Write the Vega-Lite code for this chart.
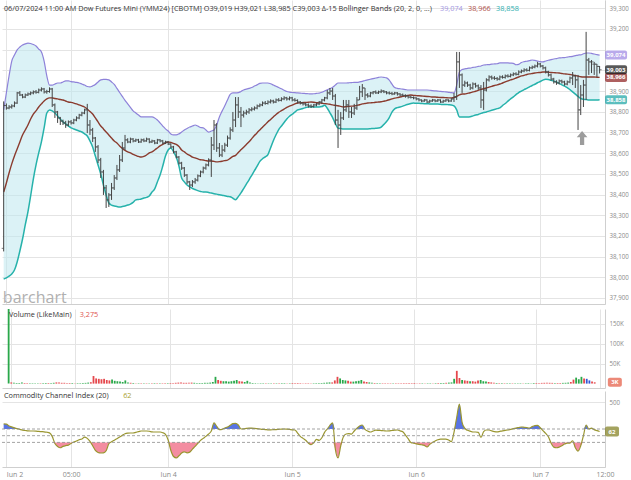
{
"$schema":"https://vega.github.io/schema/vega-lite/v6.json",
"padding":0,
"background":"#ffffff",
"spacing":3,
"config":{"font":"Open Sans","view":{"stroke":null},"axis":{"labelColor":"#8a8a8a","labelFontSize":6.2,"gridColor":"#e4e4e4","gridWidth":1,"domainColor":"#cfcfcf","ticks":false,"labelPadding":4,"labelOverlap":false,"tickCount":30}},
"datasets":{"bars":[
{"i":-1,"o":38140,"h":38850,"l":38125,"c":38830,"u":38809,"m":38412,"d":37992,"v":200000,"k":175},
{"i":0,"o":38830,"h":38840,"l":38810,"c":38818,"u":38891,"m":38456,"d":37997,"v":3000,"k":174},
{"i":1,"o":38818,"h":38832,"l":38812,"c":38823,"u":38973,"m":38504,"d":38006,"v":2000,"k":144},
{"i":2,"o":38823,"h":38836,"l":38815,"c":38828,"u":39045,"m":38548,"d":38016,"v":1500,"k":131},
{"i":3,"o":38828,"h":38850,"l":38822,"c":38842,"u":39074,"m":38586,"d":38035,"v":1500,"k":117},
{"i":4,"o":38842,"h":38896,"l":38838,"c":38891,"u":39099,"m":38620,"d":38074,"v":2500,"k":106},
{"i":5,"o":38891,"h":38900,"l":38876,"c":38881,"u":39113,"m":38654,"d":38127,"v":1500,"k":94},
{"i":6,"o":38881,"h":38886,"l":38865,"c":38871,"u":39123,"m":38688,"d":38185,"v":1200,"k":83},
{"i":7,"o":38871,"h":38888,"l":38866,"c":38881,"u":39128,"m":38712,"d":38253,"v":1000,"k":78},
{"i":8,"o":38881,"h":38893,"l":38876,"c":38886,"u":39132,"m":38736,"d":38316,"v":1000,"k":72},
{"i":9,"o":38886,"h":38898,"l":38880,"c":38891,"u":39130,"m":38765,"d":38393,"v":900,"k":70},
{"i":10,"o":38891,"h":38903,"l":38884,"c":38896,"u":39125,"m":38789,"d":38475,"v":900,"k":70},
{"i":11,"o":38896,"h":38905,"l":38887,"c":38894,"u":39118,"m":38804,"d":38543,"v":1000,"k":68},
{"i":12,"o":38894,"h":38912,"l":38889,"c":38905,"u":39103,"m":38823,"d":38601,"v":1200,"k":64},
{"i":13,"o":38905,"h":38918,"l":38898,"c":38910,"u":39089,"m":38838,"d":38654,"v":1500,"k":61},
{"i":14,"o":38910,"h":38915,"l":38888,"c":38896,"u":39045,"m":38852,"d":38722,"v":1500,"k":58},
{"i":15,"o":38896,"h":38906,"l":38887,"c":38898,"u":38973,"m":38862,"d":38794,"v":1800,"k":51},
{"i":16,"o":38898,"h":38918,"l":38892,"c":38910,"u":38929,"m":38867,"d":38809,"v":2000,"k":43},
{"i":17,"o":38910,"h":38915,"l":38823,"c":38833,"u":38929,"m":38867,"d":38804,"v":3000,"k":-10},
{"i":18,"o":38833,"h":38840,"l":38770,"c":38799,"u":38934,"m":38864,"d":38794,"v":2500,"k":-115},
{"i":19,"o":38799,"h":38804,"l":38746,"c":38770,"u":38939,"m":38862,"d":38780,"v":2000,"k":-160},
{"i":20,"o":38770,"h":38775,"l":38736,"c":38755,"u":38939,"m":38859,"d":38765,"v":2000,"k":-180},
{"i":21,"o":38755,"h":38762,"l":38736,"c":38746,"u":38944,"m":38857,"d":38751,"v":1800,"k":-160},
{"i":22,"o":38746,"h":38756,"l":38722,"c":38736,"u":38949,"m":38852,"d":38741,"v":1500,"k":-148},
{"i":23,"o":38736,"h":38758,"l":38730,"c":38751,"u":38949,"m":38847,"d":38731,"v":1500,"k":-140},
{"i":24,"o":38751,"h":38760,"l":38738,"c":38746,"u":38946,"m":38845,"d":38722,"v":1200,"k":-115},
{"i":25,"o":38746,"h":38766,"l":38740,"c":38760,"u":38944,"m":38842,"d":38717,"v":1200,"k":-95},
{"i":26,"o":38760,"h":38778,"l":38754,"c":38770,"u":38942,"m":38838,"d":38712,"v":1200,"k":-80},
{"i":27,"o":38770,"h":38790,"l":38764,"c":38784,"u":38939,"m":38833,"d":38707,"v":1500,"k":-60},
{"i":28,"o":38784,"h":38800,"l":38778,"c":38794,"u":38934,"m":38828,"d":38702,"v":1800,"k":-50},
{"i":29,"o":38794,"h":38815,"l":38788,"c":38809,"u":38929,"m":38823,"d":38693,"v":2500,"k":-20},
{"i":30,"o":38809,"h":38838,"l":38697,"c":38736,"u":38922,"m":38813,"d":38683,"v":3500,"k":-40},
{"i":31,"o":38736,"h":38760,"l":38688,"c":38712,"u":38920,"m":38801,"d":38659,"v":19000,"k":-85},
{"i":32,"o":38712,"h":38722,"l":38654,"c":38673,"u":38925,"m":38789,"d":38630,"v":13000,"k":-150},
{"i":33,"o":38673,"h":38678,"l":38606,"c":38630,"u":38932,"m":38770,"d":38586,"v":12000,"k":-220},
{"i":34,"o":38630,"h":38639,"l":38552,"c":38567,"u":38944,"m":38751,"d":38543,"v":11000,"k":-250},
{"i":35,"o":38567,"h":38577,"l":38480,"c":38509,"u":38954,"m":38731,"d":38499,"v":12000,"k":-258},
{"i":36,"o":38509,"h":38519,"l":38398,"c":38432,"u":38956,"m":38717,"d":38446,"v":9000,"k":-256},
{"i":37,"o":38432,"h":38446,"l":38335,"c":38374,"u":38956,"m":38702,"d":38398,"v":8000,"k":-225},
{"i":38,"o":38374,"h":38407,"l":38340,"c":38398,"u":38954,"m":38688,"d":38359,"v":10000,"k":-120},
{"i":39,"o":38398,"h":38456,"l":38374,"c":38432,"u":38944,"m":38673,"d":38349,"v":7000,"k":-92},
{"i":40,"o":38432,"h":38494,"l":38422,"c":38480,"u":38932,"m":38659,"d":38345,"v":6000,"k":-68},
{"i":41,"o":38480,"h":38543,"l":38470,"c":38519,"u":38913,"m":38649,"d":38342,"v":5000,"k":-45},
{"i":42,"o":38519,"h":38591,"l":38509,"c":38567,"u":38893,"m":38635,"d":38340,"v":4000,"k":-20},
{"i":43,"o":38567,"h":38654,"l":38557,"c":38625,"u":38874,"m":38623,"d":38342,"v":8000,"k":5},
{"i":44,"o":38625,"h":38688,"l":38615,"c":38664,"u":38855,"m":38613,"d":38345,"v":3000,"k":30},
{"i":45,"o":38664,"h":38672,"l":38648,"c":38654,"u":38838,"m":38606,"d":38349,"v":2000,"k":38},
{"i":46,"o":38654,"h":38675,"l":38648,"c":38668,"u":38821,"m":38601,"d":38354,"v":1500,"k":40},
{"i":47,"o":38668,"h":38673,"l":38652,"c":38659,"u":38804,"m":38594,"d":38362,"v":1200,"k":40},
{"i":48,"o":38659,"h":38670,"l":38654,"c":38664,"u":38794,"m":38589,"d":38374,"v":1000,"k":50},
{"i":49,"o":38664,"h":38669,"l":38649,"c":38654,"u":38784,"m":38584,"d":38376,"v":1000,"k":60},
{"i":50,"o":38654,"h":38670,"l":38650,"c":38664,"u":38775,"m":38581,"d":38378,"v":900,"k":70},
{"i":51,"o":38664,"h":38671,"l":38653,"c":38659,"u":38775,"m":38584,"d":38383,"v":900,"k":70},
{"i":52,"o":38659,"h":38675,"l":38655,"c":38668,"u":38775,"m":38591,"d":38386,"v":800,"k":70},
{"i":53,"o":38668,"h":38672,"l":38648,"c":38654,"u":38775,"m":38601,"d":38393,"v":1000,"k":66},
{"i":54,"o":38654,"h":38665,"l":38649,"c":38659,"u":38775,"m":38606,"d":38412,"v":1200,"k":58},
{"i":55,"o":38659,"h":38663,"l":38643,"c":38649,"u":38770,"m":38615,"d":38427,"v":1000,"k":55},
{"i":56,"o":38649,"h":38669,"l":38644,"c":38664,"u":38760,"m":38625,"d":38461,"v":1000,"k":55},
{"i":57,"o":38664,"h":38668,"l":38652,"c":38659,"u":38746,"m":38635,"d":38494,"v":1000,"k":55},
{"i":58,"o":38659,"h":38664,"l":38643,"c":38649,"u":38731,"m":38642,"d":38538,"v":1100,"k":45},
{"i":59,"o":38649,"h":38660,"l":38644,"c":38654,"u":38717,"m":38649,"d":38586,"v":1200,"k":20},
{"i":60,"o":38654,"h":38658,"l":38639,"c":38644,"u":38707,"m":38654,"d":38615,"v":1500,"k":-65},
{"i":61,"o":38644,"h":38648,"l":38623,"c":38630,"u":38693,"m":38652,"d":38625,"v":1500,"k":-220},
{"i":62,"o":38630,"h":38635,"l":38599,"c":38606,"u":38688,"m":38647,"d":38606,"v":2000,"k":-310},
{"i":63,"o":38606,"h":38611,"l":38575,"c":38581,"u":38688,"m":38642,"d":38581,"v":2500,"k":-330},
{"i":64,"o":38581,"h":38586,"l":38545,"c":38552,"u":38693,"m":38632,"d":38538,"v":2500,"k":-300},
{"i":65,"o":38552,"h":38558,"l":38519,"c":38528,"u":38702,"m":38615,"d":38480,"v":2000,"k":-258},
{"i":66,"o":38528,"h":38533,"l":38485,"c":38494,"u":38712,"m":38606,"d":38461,"v":2000,"k":-240},
{"i":67,"o":38494,"h":38499,"l":38451,"c":38461,"u":38719,"m":38596,"d":38446,"v":2000,"k":-255},
{"i":68,"o":38461,"h":38466,"l":38422,"c":38446,"u":38726,"m":38589,"d":38437,"v":2500,"k":-245},
{"i":69,"o":38446,"h":38470,"l":38436,"c":38461,"u":38731,"m":38581,"d":38429,"v":2000,"k":-200},
{"i":70,"o":38461,"h":38480,"l":38452,"c":38470,"u":38736,"m":38577,"d":38424,"v":1800,"k":-160},
{"i":71,"o":38470,"h":38497,"l":38463,"c":38490,"u":38731,"m":38572,"d":38419,"v":1500,"k":-115},
{"i":72,"o":38490,"h":38516,"l":38484,"c":38509,"u":38724,"m":38568,"d":38415,"v":1500,"k":-70},
{"i":73,"o":38509,"h":38535,"l":38502,"c":38528,"u":38722,"m":38567,"d":38412,"v":2000,"k":-40},
{"i":74,"o":38528,"h":38550,"l":38520,"c":38543,"u":38712,"m":38564,"d":38412,"v":2000,"k":-10},
{"i":75,"o":38543,"h":38575,"l":38536,"c":38567,"u":38702,"m":38562,"d":38410,"v":2500,"k":25},
{"i":76,"o":38567,"h":38678,"l":38485,"c":38639,"u":38707,"m":38562,"d":38407,"v":4000,"k":70},
{"i":77,"o":38639,"h":38760,"l":38615,"c":38736,"u":38712,"m":38560,"d":38404,"v":17000,"k":190},
{"i":78,"o":38736,"h":38745,"l":38606,"c":38625,"u":38737,"m":38558,"d":38402,"v":9000,"k":140},
{"i":79,"o":38625,"h":38649,"l":38581,"c":38591,"u":38775,"m":38559,"d":38399,"v":7000,"k":90},
{"i":80,"o":38591,"h":38639,"l":38581,"c":38615,"u":38803,"m":38561,"d":38397,"v":6000,"k":95},
{"i":81,"o":38615,"h":38650,"l":38605,"c":38639,"u":38829,"m":38564,"d":38394,"v":6000,"k":115},
{"i":82,"o":38639,"h":38685,"l":38630,"c":38673,"u":38857,"m":38566,"d":38391,"v":5000,"k":130},
{"i":83,"o":38673,"h":38725,"l":38665,"c":38712,"u":38884,"m":38575,"d":38389,"v":6000,"k":155},
{"i":84,"o":38712,"h":38799,"l":38702,"c":38760,"u":38891,"m":38584,"d":38382,"v":7000,"k":180},
{"i":85,"o":38760,"h":38871,"l":38726,"c":38833,"u":38891,"m":38589,"d":38375,"v":9000,"k":185},
{"i":86,"o":38833,"h":38871,"l":38770,"c":38799,"u":38892,"m":38603,"d":38390,"v":6000,"k":160},
{"i":87,"o":38799,"h":38823,"l":38726,"c":38784,"u":38898,"m":38616,"d":38408,"v":5000,"k":100},
{"i":88,"o":38784,"h":38805,"l":38772,"c":38794,"u":38905,"m":38629,"d":38429,"v":4000,"k":103},
{"i":89,"o":38794,"h":38810,"l":38785,"c":38799,"u":38909,"m":38642,"d":38450,"v":7000,"k":108},
{"i":90,"o":38799,"h":38818,"l":38790,"c":38809,"u":38913,"m":38655,"d":38471,"v":3000,"k":112},
{"i":91,"o":38809,"h":38822,"l":38802,"c":38813,"u":38917,"m":38670,"d":38493,"v":1500,"k":113},
{"i":92,"o":38813,"h":38826,"l":38806,"c":38818,"u":38924,"m":38685,"d":38515,"v":1200,"k":110},
{"i":93,"o":38818,"h":38835,"l":38812,"c":38828,"u":38930,"m":38699,"d":38537,"v":1000,"k":105},
{"i":94,"o":38828,"h":38840,"l":38822,"c":38833,"u":38937,"m":38712,"d":38560,"v":1000,"k":100},
{"i":95,"o":38833,"h":38850,"l":38827,"c":38842,"u":38939,"m":38725,"d":38573,"v":1000,"k":95},
{"i":96,"o":38842,"h":38852,"l":38834,"c":38840,"u":38939,"m":38738,"d":38582,"v":900,"k":92},
{"i":97,"o":38840,"h":38855,"l":38835,"c":38847,"u":38939,"m":38752,"d":38593,"v":900,"k":88},
{"i":98,"o":38847,"h":38860,"l":38840,"c":38852,"u":38935,"m":38763,"d":38626,"v":900,"k":88},
{"i":99,"o":38852,"h":38858,"l":38840,"c":38847,"u":38929,"m":38775,"d":38660,"v":1000,"k":90},
{"i":100,"o":38847,"h":38864,"l":38842,"c":38857,"u":38923,"m":38787,"d":38689,"v":1000,"k":92},
{"i":101,"o":38857,"h":38866,"l":38849,"c":38855,"u":38917,"m":38797,"d":38714,"v":1000,"k":95},
{"i":102,"o":38855,"h":38870,"l":38850,"c":38862,"u":38911,"m":38805,"d":38731,"v":1200,"k":98},
{"i":103,"o":38862,"h":38875,"l":38856,"c":38867,"u":38904,"m":38813,"d":38748,"v":1200,"k":100},
{"i":104,"o":38867,"h":38872,"l":38854,"c":38862,"u":38898,"m":38821,"d":38765,"v":1000,"k":97},
{"i":105,"o":38862,"h":38874,"l":38855,"c":38867,"u":38895,"m":38827,"d":38778,"v":1000,"k":93},
{"i":106,"o":38867,"h":38872,"l":38850,"c":38857,"u":38893,"m":38832,"d":38788,"v":1500,"k":88},
{"i":107,"o":38857,"h":38866,"l":38849,"c":38855,"u":38892,"m":38838,"d":38798,"v":1500,"k":85},
{"i":108,"o":38855,"h":38860,"l":38840,"c":38847,"u":38891,"m":38842,"d":38809,"v":1500,"k":40},
{"i":109,"o":38847,"h":38852,"l":38835,"c":38842,"u":38890,"m":38843,"d":38812,"v":1200,"k":-10},
{"i":110,"o":38842,"h":38848,"l":38830,"c":38838,"u":38889,"m":38844,"d":38816,"v":1200,"k":-40},
{"i":111,"o":38838,"h":38844,"l":38826,"c":38833,"u":38888,"m":38845,"d":38820,"v":1000,"k":-68},
{"i":112,"o":38833,"h":38840,"l":38820,"c":38828,"u":38887,"m":38846,"d":38823,"v":1000,"k":-110},
{"i":113,"o":38828,"h":38836,"l":38818,"c":38826,"u":38886,"m":38847,"d":38823,"v":1000,"k":-135},
{"i":114,"o":38826,"h":38838,"l":38820,"c":38833,"u":38887,"m":38846,"d":38823,"v":1000,"k":-105},
{"i":115,"o":38833,"h":38844,"l":38826,"c":38838,"u":38889,"m":38844,"d":38823,"v":1200,"k":-55},
{"i":116,"o":38838,"h":38852,"l":38832,"c":38847,"u":38890,"m":38843,"d":38823,"v":1500,"k":-70},
{"i":117,"o":38847,"h":38862,"l":38840,"c":38857,"u":38894,"m":38841,"d":38825,"v":1500,"k":-30},
{"i":118,"o":38857,"h":38872,"l":38850,"c":38867,"u":38900,"m":38839,"d":38831,"v":2000,"k":50},
{"i":119,"o":38867,"h":38905,"l":38860,"c":38891,"u":38906,"m":38838,"d":38817,"v":2500,"k":100},
{"i":120,"o":38891,"h":38915,"l":38881,"c":38900,"u":38912,"m":38836,"d":38795,"v":3000,"k":155},
{"i":121,"o":38900,"h":38915,"l":38857,"c":38876,"u":38918,"m":38833,"d":38772,"v":3000,"k":190},
{"i":122,"o":38876,"h":38886,"l":38736,"c":38760,"u":38929,"m":38831,"d":38743,"v":8000,"k":-200},
{"i":123,"o":38760,"h":38809,"l":38625,"c":38736,"u":38939,"m":38829,"d":38721,"v":17000,"k":-330},
{"i":124,"o":38736,"h":38799,"l":38688,"c":38770,"u":38939,"m":38826,"d":38719,"v":13000,"k":-150},
{"i":125,"o":38770,"h":38857,"l":38760,"c":38809,"u":38939,"m":38823,"d":38717,"v":9000,"k":-15},
{"i":126,"o":38809,"h":38857,"l":38799,"c":38833,"u":38939,"m":38825,"d":38717,"v":8000,"k":25},
{"i":127,"o":38833,"h":38857,"l":38770,"c":38799,"u":38940,"m":38826,"d":38717,"v":7000,"k":30},
{"i":128,"o":38799,"h":38823,"l":38770,"c":38794,"u":38941,"m":38827,"d":38717,"v":5000,"k":25},
{"i":129,"o":38794,"h":38838,"l":38784,"c":38818,"u":38942,"m":38828,"d":38717,"v":5000,"k":70},
{"i":130,"o":38818,"h":38871,"l":38809,"c":38857,"u":38942,"m":38831,"d":38717,"v":6000,"k":110},
{"i":131,"o":38857,"h":38925,"l":38857,"c":38896,"u":38944,"m":38834,"d":38717,"v":7000,"k":145},
{"i":132,"o":38896,"h":38934,"l":38871,"c":38915,"u":38947,"m":38838,"d":38717,"v":9000,"k":160},
{"i":133,"o":38915,"h":38915,"l":38857,"c":38881,"u":38951,"m":38840,"d":38717,"v":5000,"k":95},
{"i":134,"o":38881,"h":38890,"l":38868,"c":38876,"u":38954,"m":38842,"d":38717,"v":4000,"k":70},
{"i":135,"o":38876,"h":38896,"l":38870,"c":38891,"u":38957,"m":38843,"d":38718,"v":3000,"k":55},
{"i":136,"o":38891,"h":38900,"l":38884,"c":38896,"u":38960,"m":38844,"d":38719,"v":2000,"k":70},
{"i":137,"o":38896,"h":38903,"l":38886,"c":38891,"u":38963,"m":38846,"d":38720,"v":1500,"k":82},
{"i":138,"o":38891,"h":38902,"l":38886,"c":38896,"u":38966,"m":38847,"d":38721,"v":1200,"k":80},
{"i":139,"o":38896,"h":38908,"l":38890,"c":38900,"u":38968,"m":38848,"d":38726,"v":1000,"k":77},
{"i":140,"o":38900,"h":38905,"l":38890,"c":38896,"u":38966,"m":38851,"d":38739,"v":1000,"k":74},
{"i":141,"o":38896,"h":38900,"l":38884,"c":38891,"u":38964,"m":38854,"d":38753,"v":1000,"k":70},
{"i":142,"o":38891,"h":38898,"l":38883,"c":38889,"u":38953,"m":38858,"d":38772,"v":900,"k":72},
{"i":143,"o":38889,"h":38896,"l":38880,"c":38886,"u":38933,"m":38862,"d":38798,"v":900,"k":78},
{"i":144,"o":38886,"h":38896,"l":38882,"c":38891,"u":38917,"m":38866,"d":38814,"v":900,"k":82},
{"i":145,"o":38891,"h":38895,"l":38878,"c":38886,"u":38913,"m":38868,"d":38820,"v":1000,"k":85},
{"i":146,"o":38886,"h":38890,"l":38874,"c":38881,"u":38911,"m":38871,"d":38823,"v":1000,"k":72},
{"i":147,"o":38881,"h":38888,"l":38874,"c":38879,"u":38909,"m":38874,"d":38827,"v":1000,"k":58},
{"i":148,"o":38879,"h":38884,"l":38868,"c":38876,"u":38907,"m":38877,"d":38832,"v":1200,"k":10},
{"i":149,"o":38876,"h":38880,"l":38864,"c":38871,"u":38905,"m":38879,"d":38836,"v":1200,"k":-45},
{"i":150,"o":38871,"h":38878,"l":38864,"c":38869,"u":38905,"m":38881,"d":38840,"v":1500,"k":-100},
{"i":151,"o":38869,"h":38874,"l":38860,"c":38867,"u":38905,"m":38879,"d":38842,"v":1200,"k":-112},
{"i":152,"o":38867,"h":38870,"l":38855,"c":38862,"u":38905,"m":38878,"d":38841,"v":1500,"k":-122},
{"i":153,"o":38862,"h":38866,"l":38850,"c":38857,"u":38905,"m":38877,"d":38841,"v":1200,"k":-130},
{"i":154,"o":38857,"h":38860,"l":38846,"c":38852,"u":38905,"m":38876,"d":38840,"v":1000,"k":-135},
{"i":155,"o":38852,"h":38862,"l":38848,"c":38857,"u":38905,"m":38875,"d":38839,"v":1000,"k":-145},
{"i":156,"o":38857,"h":38860,"l":38842,"c":38847,"u":38905,"m":38874,"d":38839,"v":1000,"k":-168},
{"i":157,"o":38847,"h":38858,"l":38843,"c":38852,"u":38904,"m":38873,"d":38838,"v":1000,"k":-130},
{"i":158,"o":38852,"h":38862,"l":38848,"c":38857,"u":38902,"m":38871,"d":38838,"v":1000,"k":-100},
{"i":159,"o":38857,"h":38860,"l":38846,"c":38852,"u":38901,"m":38871,"d":38837,"v":1200,"k":-80},
{"i":160,"o":38852,"h":38862,"l":38848,"c":38857,"u":38900,"m":38870,"d":38837,"v":1200,"k":-60},
{"i":161,"o":38857,"h":38860,"l":38843,"c":38847,"u":38898,"m":38869,"d":38836,"v":1500,"k":-50},
{"i":162,"o":38847,"h":38858,"l":38843,"c":38852,"u":38897,"m":38869,"d":38835,"v":1500,"k":-50},
{"i":163,"o":38852,"h":38862,"l":38848,"c":38857,"u":38896,"m":38868,"d":38835,"v":1500,"k":-50},
{"i":164,"o":38857,"h":38860,"l":38846,"c":38852,"u":38894,"m":38867,"d":38834,"v":2000,"k":-65},
{"i":165,"o":38852,"h":38866,"l":38848,"c":38862,"u":38892,"m":38867,"d":38833,"v":2500,"k":-90},
{"i":166,"o":38862,"h":38891,"l":38847,"c":38871,"u":38891,"m":38869,"d":38828,"v":3000,"k":50},
{"i":167,"o":38871,"h":39089,"l":38857,"c":39041,"u":38929,"m":38874,"d":38809,"v":12000,"k":270},
{"i":168,"o":39041,"h":39089,"l":38915,"c":38978,"u":38992,"m":38881,"d":38775,"v":32000,"k":470},
{"i":169,"o":38978,"h":38985,"l":38891,"c":38929,"u":39004,"m":38886,"d":38775,"v":14000,"k":200},
{"i":170,"o":38929,"h":38950,"l":38920,"c":38939,"u":39007,"m":38886,"d":38775,"v":9000,"k":110},
{"i":171,"o":38939,"h":38946,"l":38920,"c":38929,"u":39010,"m":38889,"d":38775,"v":8000,"k":80},
{"i":172,"o":38929,"h":38935,"l":38905,"c":38915,"u":39011,"m":38892,"d":38776,"v":7000,"k":68},
{"i":173,"o":38915,"h":38942,"l":38908,"c":38934,"u":39014,"m":38896,"d":38780,"v":6000,"k":55},
{"i":174,"o":38934,"h":38940,"l":38916,"c":38925,"u":39016,"m":38899,"d":38784,"v":6000,"k":55},
{"i":175,"o":38925,"h":38932,"l":38906,"c":38915,"u":39019,"m":38903,"d":38787,"v":5000,"k":50},
{"i":176,"o":38915,"h":38929,"l":38818,"c":38857,"u":39021,"m":38908,"d":38792,"v":8000,"k":-25},
{"i":177,"o":38857,"h":38944,"l":38809,"c":38905,"u":39026,"m":38911,"d":38796,"v":9000,"k":60},
{"i":178,"o":38905,"h":38962,"l":38898,"c":38954,"u":39027,"m":38915,"d":38799,"v":6000,"k":85},
{"i":179,"o":38954,"h":38976,"l":38946,"c":38968,"u":39028,"m":38919,"d":38803,"v":5000,"k":85},
{"i":180,"o":38968,"h":38975,"l":38955,"c":38963,"u":39030,"m":38923,"d":38807,"v":4000,"k":72},
{"i":181,"o":38963,"h":38972,"l":38954,"c":38961,"u":39031,"m":38927,"d":38811,"v":3000,"k":62},
{"i":182,"o":38961,"h":38968,"l":38950,"c":38958,"u":39032,"m":38930,"d":38815,"v":2000,"k":57},
{"i":183,"o":38958,"h":38975,"l":38952,"c":38968,"u":39036,"m":38934,"d":38819,"v":1500,"k":65},
{"i":184,"o":38968,"h":38976,"l":38960,"c":38966,"u":39036,"m":38939,"d":38830,"v":1200,"k":73},
{"i":185,"o":38966,"h":38980,"l":38960,"c":38973,"u":39036,"m":38944,"d":38840,"v":1200,"k":80},
{"i":186,"o":38973,"h":38981,"l":38965,"c":38971,"u":39036,"m":38949,"d":38851,"v":1000,"k":85},
{"i":187,"o":38971,"h":38985,"l":38966,"c":38978,"u":39035,"m":38954,"d":38862,"v":1000,"k":95},
{"i":188,"o":38978,"h":38990,"l":38972,"c":38983,"u":39034,"m":38958,"d":38872,"v":1000,"k":105},
{"i":189,"o":38983,"h":38991,"l":38975,"c":38981,"u":39027,"m":38963,"d":38883,"v":900,"k":114},
{"i":190,"o":38981,"h":39000,"l":38976,"c":38992,"u":39029,"m":38968,"d":38893,"v":900,"k":122},
{"i":191,"o":38992,"h":39004,"l":38986,"c":38997,"u":39038,"m":38973,"d":38900,"v":900,"k":130},
{"i":192,"o":38997,"h":39010,"l":38991,"c":39002,"u":39042,"m":38976,"d":38907,"v":1000,"k":125},
{"i":193,"o":39002,"h":39010,"l":38994,"c":39000,"u":39044,"m":38980,"d":38913,"v":1000,"k":120},
{"i":194,"o":39000,"h":39019,"l":38995,"c":39012,"u":39047,"m":38983,"d":38920,"v":1000,"k":115},
{"i":195,"o":39012,"h":39023,"l":39006,"c":39016,"u":39050,"m":38985,"d":38927,"v":1200,"k":135},
{"i":196,"o":39016,"h":39028,"l":39010,"c":39021,"u":39048,"m":38987,"d":38933,"v":1200,"k":150},
{"i":197,"o":39021,"h":39041,"l":39014,"c":39031,"u":39045,"m":38989,"d":38940,"v":1500,"k":155},
{"i":198,"o":39031,"h":39036,"l":39014,"c":39021,"u":39042,"m":38990,"d":38946,"v":1500,"k":118},
{"i":199,"o":39021,"h":39026,"l":39004,"c":39012,"u":39041,"m":38992,"d":38953,"v":1500,"k":75},
{"i":200,"o":39012,"h":39018,"l":38985,"c":38992,"u":39045,"m":38992,"d":38957,"v":1800,"k":35},
{"i":201,"o":38992,"h":38998,"l":38970,"c":38978,"u":39049,"m":38991,"d":38956,"v":2000,"k":-15},
{"i":202,"o":38978,"h":38984,"l":38950,"c":38958,"u":39052,"m":38990,"d":38952,"v":2000,"k":-110},
{"i":203,"o":38958,"h":38964,"l":38936,"c":38944,"u":39055,"m":38989,"d":38948,"v":2000,"k":-170},
{"i":204,"o":38944,"h":38952,"l":38930,"c":38939,"u":39057,"m":38988,"d":38944,"v":1800,"k":-180},
{"i":205,"o":38939,"h":38956,"l":38932,"c":38949,"u":39060,"m":38987,"d":38937,"v":1500,"k":-170},
{"i":206,"o":38949,"h":38955,"l":38936,"c":38944,"u":39061,"m":38985,"d":38930,"v":1500,"k":-150},
{"i":207,"o":38944,"h":38950,"l":38926,"c":38934,"u":39062,"m":38983,"d":38924,"v":1500,"k":-125},
{"i":208,"o":38934,"h":38951,"l":38928,"c":38944,"u":39064,"m":38982,"d":38917,"v":1800,"k":-110},
{"i":209,"o":38944,"h":38970,"l":38938,"c":38963,"u":39066,"m":38980,"d":38907,"v":2000,"k":-110},
{"i":210,"o":38963,"h":38992,"l":38929,"c":38973,"u":39068,"m":38978,"d":38896,"v":2500,"k":-75},
{"i":211,"o":38973,"h":38978,"l":38915,"c":38954,"u":39071,"m":38975,"d":38885,"v":4000,"k":-180},
{"i":212,"o":38954,"h":38978,"l":38712,"c":38809,"u":39074,"m":38972,"d":38874,"v":10000,"k":-230},
{"i":213,"o":38809,"h":38929,"l":38784,"c":38881,"u":39075,"m":38969,"d":38864,"v":15000,"k":-150},
{"i":214,"o":38881,"h":38954,"l":38823,"c":38929,"u":39080,"m":38968,"d":38860,"v":11000,"k":0},
{"i":215,"o":38929,"h":39186,"l":38857,"c":39050,"u":39084,"m":38968,"d":38859,"v":17000,"k":160},
{"i":216,"o":39050,"h":39060,"l":38978,"c":39041,"u":39084,"m":38968,"d":38857,"v":13000,"k":100},
{"i":217,"o":39041,"h":39050,"l":38987,"c":39041,"u":39082,"m":38968,"d":38857,"v":12000,"k":112},
{"i":218,"o":39030,"h":39041,"l":38978,"c":39030,"u":39079,"m":38968,"d":38857,"v":8000,"k":90},
{"i":219,"o":39030,"h":39031,"l":38968,"c":39019,"u":39076,"m":38967,"d":38857,"v":5000,"k":75},
{"i":220,"o":39019,"h":39021,"l":38985,"c":39003,"u":39074,"m":38966,"d":38858,"v":3275,"k":62}
]},
"vconcat":[
{
"width":603,"height":304,
"data":{"name":"bars"},
"layer":[
{"mark":{"type":"area","color":"#bde8ee","opacity":0.55,"interpolate":"monotone"},"encoding":{"x":{"field":"i","type":"quantitative","title":null,"scale":{"domain":[-1.62,222],"nice":false,"zero":false},"axis":{"values":[0,24,60,106,152,198,222],"labels":false,"grid":true,"domain":true,"tickCount":30}},"y":{"field":"u","type":"quantitative","title":null,"scale":{"domain":[37871,39340],"nice":false,"zero":false},"axis":{"orient":"right","values":[37900,38000,38100,38200,38300,38400,38500,38600,38700,38800,38900,39000,39100,39200,39300],"tickCount":30,"labelExpr":"datum.value == 39000 || datum.value == 39100 ? '' : format(datum.value, ',')","grid":true,"domain":true,"title":null,"labelOverlap":false,"labelFontSize":6.2}},"y2":{"field":"d"}}},
{"mark":{"type":"line","color":"#8e82d9","strokeWidth":1.2,"interpolate":"monotone"},"encoding":{"x":{"field":"i","type":"quantitative"},"y":{"field":"u","type":"quantitative","title":null}}},
{"mark":{"type":"line","color":"#8a3b2e","strokeWidth":1.4,"interpolate":"monotone"},"encoding":{"x":{"field":"i","type":"quantitative"},"y":{"field":"m","type":"quantitative","title":null}}},
{"mark":{"type":"line","color":"#26b2ab","strokeWidth":1.5,"interpolate":"monotone"},"encoding":{"x":{"field":"i","type":"quantitative"},"y":{"field":"d","type":"quantitative","title":null}}},
{"mark":{"type":"rule","color":"#444444","strokeWidth":1},"encoding":{"x":{"field":"i","type":"quantitative"},"y":{"field":"l","type":"quantitative","title":null},"y2":{"field":"h"}}},
{"mark":{"type":"tick","orient":"horizontal","size":2,"thickness":1,"xOffset":-1,"color":"#444444"},"encoding":{"x":{"field":"i","type":"quantitative"},"y":{"field":"o","type":"quantitative","title":null}}},
{"mark":{"type":"tick","orient":"horizontal","size":2,"thickness":1,"xOffset":1,"color":"#444444"},"encoding":{"x":{"field":"i","type":"quantitative"},"y":{"field":"c","type":"quantitative","title":null}}},
{"data":{"values":[{}]},"mark":{"type":"text","text":"barchart","fontSize":16,"color":"#b0b0b0","align":"left","baseline":"alphabetic"},"encoding":{"x":{"datum":-1.3},"y":{"datum":37876}}},
{"data":{"values":[{}]},"mark":{"type":"text","text":"06/07/2024 11:00 AM Dow Futures Mini (YMM24) [CBOTM] O39,019 H39,021 L38,985 C39,003 Δ-15 Bollinger Bands (20, 2, 0, ...)","fontSize":7.3,"color":"#333333","align":"left","baseline":"middle"},"encoding":{"x":{"datum":-0.9},"y":{"datum":39297}}},
{"transform":[{"filter":"datum.i == 220"}],"mark":{"type":"text","fontSize":7.3,"color":"#a396e2","align":"left","baseline":"middle"},"encoding":{"x":{"datum":160.8},"y":{"datum":39297},"text":{"field":"u","format":","}}},
{"transform":[{"filter":"datum.i == 220"}],"mark":{"type":"text","fontSize":7.3,"color":"#b0504a","align":"left","baseline":"middle"},"encoding":{"x":{"datum":171.2},"y":{"datum":39297},"text":{"field":"m","format":","}}},
{"transform":[{"filter":"datum.i == 220"}],"mark":{"type":"text","fontSize":7.3,"color":"#2aafb0","align":"left","baseline":"middle"},"encoding":{"x":{"datum":181.6},"y":{"datum":39297},"text":{"field":"d","format":","}}},
{"data":{"values":[{}]},"mark":{"type":"point","shape":"M0,-1L0.75,-0.1L0.3,-0.1L0.3,1L-0.3,1L-0.3,-0.1L-0.75,-0.1Z","size":200,"filled":true,"color":"#9c9c9c","opacity":1},"encoding":{"x":{"datum":213.5},"y":{"datum":38673}}},
{"transform":[{"filter":"datum.i == 220"}],"mark":{"type":"tick","orient":"horizontal","size":22,"thickness":9,"color":"#9b86e3","cornerRadius":2},"encoding":{"x":{"datum":226.1},"y":{"field":"u","type":"quantitative"}}},
{"transform":[{"filter":"datum.i == 220"}],"mark":{"type":"tick","orient":"horizontal","size":22,"thickness":9,"color":"#8b1d1d","cornerRadius":2},"encoding":{"x":{"datum":226.1},"y":{"field":"m","type":"quantitative"}}},
{"transform":[{"filter":"datum.i == 220"}],"mark":{"type":"tick","orient":"horizontal","size":22,"thickness":9,"color":"#111111","cornerRadius":2},"encoding":{"x":{"datum":226.1},"y":{"field":"c","type":"quantitative"}}},
{"transform":[{"filter":"datum.i == 220"}],"mark":{"type":"tick","orient":"horizontal","size":22,"thickness":9,"color":"#16a3a3","cornerRadius":2},"encoding":{"x":{"datum":226.1},"y":{"field":"d","type":"quantitative"}}},
{"transform":[{"filter":"datum.i == 220"}],"mark":{"type":"text","fontSize":6,"fontWeight":"bold","color":"#ffffff"},"encoding":{"x":{"datum":226.1},"y":{"field":"u","type":"quantitative"},"text":{"field":"u","format":","}}},
{"transform":[{"filter":"datum.i == 220"}],"mark":{"type":"text","fontSize":6,"fontWeight":"bold","color":"#ffffff"},"encoding":{"x":{"datum":226.1},"y":{"field":"m","type":"quantitative"},"text":{"field":"m","format":","}}},
{"transform":[{"filter":"datum.i == 220"}],"mark":{"type":"text","fontSize":6,"fontWeight":"bold","color":"#ffffff"},"encoding":{"x":{"datum":226.1},"y":{"field":"c","type":"quantitative"},"text":{"field":"c","format":","}}},
{"transform":[{"filter":"datum.i == 220"}],"mark":{"type":"text","fontSize":6,"fontWeight":"bold","color":"#ffffff"},"encoding":{"x":{"datum":226.1},"y":{"field":"d","type":"quantitative"},"text":{"field":"d","format":","}}}
]
},
{
"width":603,"height":79,
"data":{"name":"bars"},
"layer":[
{"mark":{"type":"bar","size":1.8,"clip":true},"encoding":{"x":{"field":"i","type":"quantitative","title":null,"scale":{"domain":[-1.62,222],"nice":false,"zero":false},"axis":{"values":[0,24,60,106,152,198,222],"labels":false,"grid":true,"domain":true,"tickCount":30}},"y":{"field":"v","type":"quantitative","title":null,"scale":{"domain":[-11000,187000],"nice":false,"zero":false},"axis":{"orient":"right","values":[50000,100000,150000],"tickCount":30,"labelExpr":"replace(format(datum.value,'~s'),'k','K')","grid":true,"domain":true,"title":null,"labelOverlap":false,"labelFontSize":6.2}},"y2":{"datum":0},"color":{"condition":[{"test":"datum.c > datum.o","value":"#2aa84a"},{"test":"datum.c < datum.o","value":"#e5484d"}],"value":"#3157d5"}}},
{"data":{"values":[{}]},"mark":{"type":"text","text":"Volume (LikeMain)","fontSize":7.3,"color":"#333333","align":"left","baseline":"middle"},"encoding":{"x":{"datum":-0.9},"y":{"datum":172000}}},
{"transform":[{"filter":"datum.i == 220"}],"mark":{"type":"text","fontSize":7.3,"color":"#e0564f","align":"left","baseline":"middle"},"encoding":{"x":{"datum":25.8},"y":{"datum":172000},"text":{"field":"v","format":","}}},
{"transform":[{"filter":"datum.i == 220"}],"mark":{"type":"tick","orient":"horizontal","size":14,"thickness":9,"color":"#e4573f","cornerRadius":2},"encoding":{"x":{"datum":227.6},"y":{"field":"v","type":"quantitative"}}},
{"transform":[{"filter":"datum.i == 220"}],"mark":{"type":"text","text":"3K","fontSize":6,"fontWeight":"bold","color":"#ffffff"},"encoding":{"x":{"datum":227.6},"y":{"field":"v","type":"quantitative"}}}
]
},
{
"width":603,"height":76,
"data":{"name":"bars"},
"resolve":{"scale":{"y":"independent"}},
"layer":[
{"mark":{"type":"area","color":"#3b5ce0","opacity":0.85,"interpolate":"monotone"},"encoding":{"x":{"field":"i","type":"quantitative","title":null,"scale":{"domain":[-1.62,222],"nice":false,"zero":false}},"y":{"field":"k","type":"quantitative","title":null,"scale":{"domain":[100,667],"range":[38,0],"clamp":true,"nice":false,"zero":false},"axis":null},"y2":{"datum":100}}},
{"mark":{"type":"area","color":"#f0708a","opacity":0.8,"interpolate":"monotone"},"encoding":{"x":{"field":"i","type":"quantitative","title":null},"y":{"field":"k","type":"quantitative","title":null,"scale":{"domain":[-467,-100],"range":[76,51.4],"clamp":true,"nice":false,"zero":false},"axis":null},"y2":{"datum":-100}}},
{"layer":[
{"mark":{"type":"line","color":"#9a9630","strokeWidth":1.2,"interpolate":"monotone"},"encoding":{"x":{"field":"i","type":"quantitative","title":null,"axis":{"values":[0,24,60,106,152,198,222],"tickCount":30,"grid":true,"domain":true,"labelPadding":3,"labelFontSize":7,"labelOverlap":false,"labelExpr":"datum.value == 0 ? 'Jun 2' : datum.value == 24 ? '05:00' : datum.value == 60 ? 'Jun 4' : datum.value == 106 ? 'Jun 5' : datum.value == 152 ? 'Jun 6' : datum.value == 198 ? 'Jun 7' : '12:00'","labelAlign":{"condition":{"test":"datum.value == 0","value":"left"},"value":"center"}}},"y":{"field":"k","type":"quantitative","title":null,"scale":{"domain":[-467,667],"nice":false,"zero":false},"axis":{"orient":"right","values":[500],"tickCount":30,"grid":true,"domain":true,"title":null,"labelFontSize":6.2}}}},
{"data":{"values":[{"lv":100},{"lv":0},{"lv":-100}]},"mark":{"type":"rule","color":"#8c8c8c","strokeDash":[3,2],"strokeWidth":0.8},"encoding":{"y":{"field":"lv","type":"quantitative"}}},
{"data":{"values":[{}]},"mark":{"type":"text","text":"Commodity Channel Index (20)","fontSize":7.3,"color":"#333333","align":"left","baseline":"middle"},"encoding":{"x":{"datum":-0.9},"y":{"datum":592}}},
{"transform":[{"filter":"datum.i == 220"}],"mark":{"type":"text","fontSize":7.3,"color":"#a9a02f","align":"left","baseline":"middle"},"encoding":{"x":{"datum":43.3},"y":{"datum":592},"text":{"field":"k"}}},
{"transform":[{"filter":"datum.i == 220"}],"mark":{"type":"tick","orient":"horizontal","size":14,"thickness":10,"color":"#7d7c1b","cornerRadius":2},"encoding":{"x":{"datum":224.6},"y":{"field":"k","type":"quantitative"}}},
{"transform":[{"filter":"datum.i == 220"}],"mark":{"type":"text","fontSize":6,"fontWeight":"bold","color":"#ffffff"},"encoding":{"x":{"datum":224.6},"y":{"field":"k","type":"quantitative"},"text":{"field":"k"}}}
]}
]
}
]
}
